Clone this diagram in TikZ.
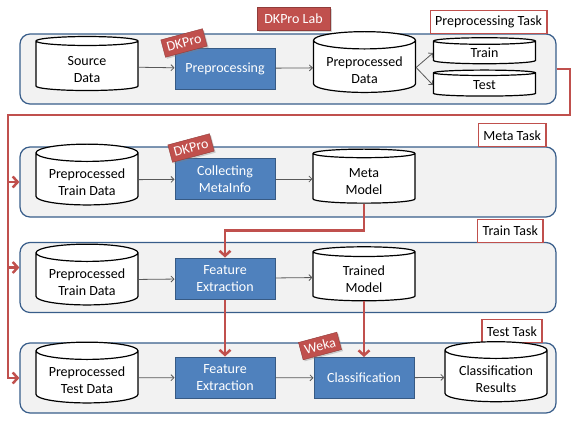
\documentclass[tikz,border=0pt]{standalone}
\usepackage{fontspec}
\setmainfont{Carlito}
\usetikzlibrary{shapes.geometric, arrows.meta, shadows}
\newcommand{\dbtext}[2]{\raisebox{-4pt}[\height][\depth]{\begin{tabular}{@{}c@{}}#1\\#2\end{tabular}}}

\begin{document}
\begin{tikzpicture}[x=1pt, y=-1pt, font=\fontsize{14}{17}\selectfont,
    panel/.style={draw=panelblue, fill=panelgray, line width=1.2pt, rounded corners=10pt, minimum width=536pt, minimum height=70pt},
    tasklabel/.style={draw=labred, fill=white, line width=1.3pt, inner xsep=5pt, minimum height=23pt, anchor=south east},
    store/.style={cylinder, shape border rotate=90, aspect=0.22, draw, line width=1.2pt, fill=white, minimum width=102pt, minimum height=26pt, inner sep=1pt},
    datastore/.style={store, minimum height=54pt},
    process/.style={draw=boxblue!70!black, fill=boxblue, line width=1pt, text=white, minimum width=100pt, minimum height=41pt, align=center},
    tooltag/.style={draw=labred!75!black, fill=labred, text=white, rotate=15, inner xsep=4pt, minimum height=18pt, drop shadow={shadow xshift=1.5pt, shadow yshift=-1.5pt, opacity=0.35}},
    flow/.style={draw=labred, line width=2.5pt, -{Straight Barb[length=5pt, width=11pt]}},
    pass/.style={draw=black!65, line width=0.8pt, -{Straight Barb[length=3pt, width=6pt]}}]
    \definecolor{labred}{RGB}{192, 80, 77}
    \definecolor{boxblue}{RGB}{79, 129, 189}
    \definecolor{panelblue}{RGB}{56, 93, 138}
    \definecolor{panelgray}{RGB}{242, 242, 242}
    \useasboundingbox (0,0) rectangle (576,432);

    % task panels
    \node[panel] (prepanel) at (288,69) {};
    \node[panel] (metapanel) at (288,182) {};
    \node[panel] (trainpanel) at (288,277.5) {};
    \node[panel] (testpanel) at (288,378) {};

    \node[tasklabel] (pretask) at ([xshift=-9pt, yshift=-1pt]prepanel.north east) {Preprocessing Task};
    \node[tasklabel] (metatask) at ([xshift=-10pt, yshift=-1pt]metapanel.north east) {Meta Task};
    \node[tasklabel] (traintask) at ([xshift=-13pt, yshift=-1pt]trainpanel.north east) {Train Task};
    \node[tasklabel] (testtask) at ([xshift=-14pt, yshift=-1pt]testpanel.north east) {Test Task};

    \node[draw=labred!75!black, fill=labred, text=white, minimum width=73pt, minimum height=23pt,
        drop shadow={shadow xshift=1.5pt, shadow yshift=-1.5pt, opacity=0.35}] (lab) at (293.5,18.5) {DKPro Lab};

    % preprocessing task
    \node[datastore] (source) at (87,66.5) {\dbtext{Source}{Data}};
    \node[process] (prepro) at (225,68.5) {Preprocessing};
    \node[datastore] (predata) at (364.5,67.5) {\dbtext{Preprocessed}{Data}};
    \node[store] (trainset) at (484.5,53) {Train};
    \node[store] (testset) at (484.5,85) {Test};

    % meta task
    \node[datastore] (metain) at (87,180) {\dbtext{Preprocessed}{Train Data}};
    \node[process] (collect) at (225,179) {Collecting\\MetaInfo};
    \node[datastore] (metamodel) at (364,179) {\dbtext{Meta}{Model}};

    % train task
    \node[datastore] (trainin) at (87,280) {\dbtext{Preprocessed}{Train Data}};
    \node[process] (trainfeat) at (225,278.5) {Feature\\Extraction};
    \node[datastore] (trainmodel) at (364,277) {\dbtext{Trained}{Model}};

    % test task
    \node[datastore] (testin) at (87,378) {\dbtext{Preprocessed}{Test Data}};
    \node[process] (testfeat) at (225,377.5) {Feature\\Extraction};
    \node[process] (classify) at (364,378) {Classification};
    \node[datastore] (results) at (496,377) {\dbtext{Classification}{Results}};

    \begin{scope}[pass]
        \draw (source) -- (prepro);
        \draw (prepro) -- (predata);
        \draw (predata.east) -- (trainset.west);
        \draw (predata.east) -- (testset.west);
        \draw (metain) -- (collect);
        \draw (collect) -- (metamodel);
        \draw (trainin) -- (trainfeat);
        \draw (trainfeat) -- (trainmodel);
        \draw (testin) -- (testfeat);
        \draw (testfeat) -- (classify);
        \draw (classify) -- (results);
    \end{scope}

    \coordinate (labR) at (570,115);
    \coordinate (labL) at (8,115);
    \coordinate (trainentry) at ([yshift=10pt]trainpanel.west);
    \begin{scope}[flow]
        \draw (prepanel.east) -| (labR) -- (labL) |- (testpanel.west);
        \draw (labL |- metapanel.west) -- (metapanel.west);
        \draw (labL |- trainentry) -- (trainentry);
        \draw (metamodel.south) -- ++(0,27) -| (trainfeat.north);
        \draw (trainfeat.south) -- (testfeat.north);
        \draw (trainmodel.south) -- (classify.north);
    \end{scope}

    % tool tags
    \node[tooltag] (dkpro1) at (184,43) {DKPro};
    \node[tooltag] (dkpro2) at (191,148) {DKPro};
    \node[tooltag] (weka) at (320,346) {Weka};
\end{tikzpicture}
\end{document}
